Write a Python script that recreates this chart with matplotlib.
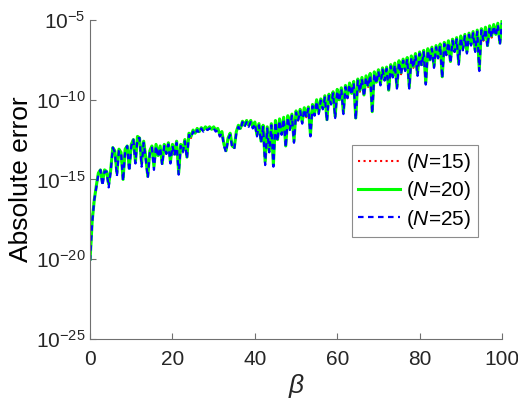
import matplotlib
matplotlib.use('Agg')

import matplotlib.pyplot as plt
import numpy as np

plt.rcParams['font.family'] = ['Liberation Sans', 'DejaVu Sans']
plt.rcParams['mathtext.fontset'] = 'custom'
plt.rcParams['mathtext.rm'] = 'Liberation Sans'
plt.rcParams['mathtext.it'] = 'Liberation Sans:italic'

# beta grid (step 0.5) and log10 of the absolute error
beta = np.arange(0, 100.5, 0.5)

err_n20 = [
    -20.0, -17.6, -16.3, -15.4, -14.6, -14.4, -15.2, -14.4, -14.5, -15.3,
    -14.4, -13.0, -13.2, -14.6, -13.1, -13.3, -15.0, -13.1, -12.9, -14.3,
    -12.8, -12.5, -13.9, -12.3, -12.4, -14.0, -12.6, -13.6, -14.8, -13.2,
    -12.9, -14.2, -12.8, -13.5, -12.9, -14.0, -12.8, -13.3, -12.7, -13.9,
    -12.8, -13.4, -12.6, -14.6, -12.8, -13.2, -12.5, -13.6, -12.1, -12.3,
    -11.9, -12.1, -11.8, -12.0, -11.75, -11.9, -11.7, -11.85, -11.7, -11.85,
    -11.7, -11.9, -11.8, -12.2, -12.0, -12.8, -13.2, -12.4, -12.1, -12.9,
    -13.0, -12.0, -11.6, -11.8, -11.35, -11.6, -11.3, -11.6, -11.3, -11.7,
    -11.4, -12.2, -11.5, -12.6, -11.6, -13.9, -11.7, -13.2, -11.5, -14.1,
    -11.3, -12.5, -11.2, -12.1, -11.1, -12.9, -11.0, -11.8, -10.9, -12.6,
    -10.7, -11.2, -10.6, -11.4, -10.5, -11.0, -10.45, -12.2, -10.3, -10.9,
    -10.0, -10.8, -9.95, -10.5, -9.75, -11.25, -9.65, -10.2, -9.5, -11.05,
    -9.35, -10.0, -9.25, -10.8, -9.1, -9.8, -8.95, -9.6, -8.85, -11.15,
    -8.7, -9.4, -8.6, -9.7, -8.5, -9.1, -8.35, -10.75, -8.25, -8.9,
    -8.12, -9.0, -8.0, -8.7, -7.95, -9.4, -7.8, -8.5, -7.7, -9.2,
    -7.55, -8.3, -7.45, -8.1, -7.35, -9.2, -7.25, -7.9, -7.1, -8.4,
    -7.0, -7.8, -6.9, -8.94, -6.8, -7.5, -6.7, -7.9, -6.6, -7.3,
    -6.5, -8.56, -6.4, -7.1, -6.3, -7.6, -6.2, -6.9, -6.1, -7.7,
    -6.0, -6.8, -5.9, -7.0, -5.82, -6.5, -5.72, -6.9, -5.63, -8.1,
    -5.54, -6.2, -5.45, -6.6, -5.36, -6.0, -5.28, -5.9, -5.2, -6.44,
    -5.1,
]

err_n15 = [
    -20.0, -17.5, -16.2, -15.4, -14.6, -14.5, -15.1, -14.4, -14.6, -15.2,
    -14.4, -13.1, -13.2, -14.5, -13.1, -13.4, -14.9, -13.1, -13.0, -14.2,
    -12.8, -12.6, -13.8, -12.3, -12.5, -13.9, -12.6, -13.5, -14.7, -13.2,
    -12.9, -14.1, -12.8, -13.4, -12.9, -13.9, -12.8, -13.4, -12.7, -13.8,
    -12.8, -13.5, -12.6, -14.5, -12.8, -13.3, -12.5, -13.5, -12.1, -12.4,
    -11.9, -12.1, -11.8, -12.0, -11.8, -11.9, -11.7, -11.9, -11.7, -11.9,
    -11.7, -11.9, -11.8, -12.3, -12.0, -12.7, -13.1, -12.4, -12.1, -12.8,
    -12.9, -12.0, -11.6, -11.8, -11.4, -11.6, -11.3, -11.6, -11.3, -11.7,
    -11.4, -12.1, -11.5, -12.5, -11.6, -13.8, -11.7, -13.1, -11.5, -14.0,
    -11.3, -12.4, -11.2, -12.2, -11.1, -12.8, -11.0, -11.9, -10.9, -12.5,
    -10.7, -11.3, -10.6, -11.3, -10.5, -11.1, -10.45, -12.1, -10.3, -10.9,
    -10.0, -10.7, -9.95, -10.6, -9.75, -11.2, -9.65, -10.3, -9.5, -11.0,
    -9.35, -10.1, -9.25, -10.7, -9.1, -9.9, -8.95, -9.5, -8.85, -11.1,
    -8.7, -9.5, -8.6, -9.6, -8.5, -9.2, -8.35, -10.7, -8.25, -9.0,
    -8.12, -8.9, -8.0, -8.8, -7.95, -9.3, -7.8, -8.6, -7.7, -9.1,
    -7.55, -8.4, -7.45, -8.0, -7.35, -9.1, -7.25, -8.0, -7.1, -8.3,
    -7.0, -7.9, -6.9, -8.9, -6.8, -7.6, -6.7, -7.8, -6.6, -7.4,
    -6.5, -8.5, -6.4, -7.2, -6.3, -7.5, -6.2, -7.0, -6.1, -7.6,
    -6.0, -6.9, -5.9, -6.9, -5.82, -6.6, -5.72, -6.8, -5.63, -8.0,
    -5.54, -6.3, -5.45, -6.5, -5.36, -6.1, -5.28, -5.8, -5.2, -6.4,
    -5.1,
]

err_n25 = [
    -20.1, -17.7, -16.3, -15.5, -14.7, -14.4, -15.4, -14.5, -14.5, -15.5,
    -14.5, -13.0, -13.3, -14.8, -13.2, -13.3, -15.1, -13.2, -12.9, -14.5,
    -12.9, -12.5, -14.0, -12.4, -12.4, -14.2, -12.7, -13.7, -14.9, -13.3,
    -13.0, -14.4, -12.9, -13.6, -13.0, -14.1, -12.9, -13.4, -12.8, -14.0,
    -12.9, -13.5, -12.7, -14.7, -12.9, -13.3, -12.6, -13.7, -12.2, -12.4,
    -12.0, -12.2, -11.9, -12.1, -11.8, -12.0, -11.8, -11.9, -11.8, -11.9,
    -11.8, -12.0, -11.9, -12.3, -12.1, -12.9, -13.3, -12.5, -12.2, -13.0,
    -13.1, -12.1, -11.7, -11.9, -11.4, -11.7, -11.4, -11.7, -11.4, -11.8,
    -11.5, -12.3, -11.6, -12.7, -11.7, -14.1, -11.8, -13.3, -11.6, -14.2,
    -11.4, -12.6, -11.3, -12.2, -11.2, -13.0, -11.1, -11.9, -11.0, -12.7,
    -10.8, -11.3, -10.7, -11.5, -10.6, -11.1, -10.55, -12.3, -10.4, -11.0,
    -10.1, -10.9, -10.05, -10.6, -9.85, -11.35, -9.75, -10.3, -9.6, -11.15,
    -9.45, -10.1, -9.35, -10.9, -9.2, -9.9, -9.05, -9.7, -8.95, -11.25,
    -8.8, -9.5, -8.7, -9.8, -8.6, -9.2, -8.45, -10.85, -8.35, -9.0,
    -8.22, -9.1, -8.1, -8.8, -8.05, -9.5, -7.9, -8.6, -7.8, -9.3,
    -7.65, -8.4, -7.55, -8.2, -7.45, -9.3, -7.35, -8.0, -7.2, -8.5,
    -7.1, -7.9, -7.0, -9.05, -6.9, -7.6, -6.8, -8.0, -6.7, -7.4,
    -6.6, -8.65, -6.5, -7.2, -6.4, -7.7, -6.3, -7.0, -6.2, -7.8,
    -6.1, -6.9, -6.0, -7.1, -5.92, -6.6, -5.82, -7.0, -5.73, -8.2,
    -5.64, -6.3, -5.55, -6.7, -5.46, -6.1, -5.38, -6.0, -5.3, -6.55,
    -5.2,
]

labels = ['($\\it{N}$=15)', '($\\it{N}$=20)', '($\\it{N}$=25)']

fig = plt.figure(figsize=(5.18, 4.01), dpi=100)
ax = fig.add_axes([0.174, 0.155, 0.795, 0.795])

ax.plot(beta, 10.0 ** np.array(err_n15), color='#ff0000', linestyle=':', linewidth=1.5, label=labels[0])
ax.plot(beta, 10.0 ** np.array(err_n20), color='#00ff00', linestyle='-', linewidth=2.2, label=labels[1])
ax.plot(beta, 10.0 ** np.array(err_n25), color='#0000ff', linestyle='--', linewidth=1.6,
        dashes=(2.5, 2.0), label=labels[2])

ax.set_yscale('log')
ax.set_xlim(0, 100)
ax.set_ylim(1e-25, 1e-5)
ax.set_xticks([0, 20, 40, 60, 80, 100])
ax.set_yticks([1e-25, 1e-20, 1e-15, 1e-10, 1e-5])
ax.minorticks_off()

for side in ['top', 'right']:
    ax.spines[side].set_visible(False)
for side in ['left', 'bottom']:
    ax.spines[side].set_color('#707070')
    ax.spines[side].set_linewidth(0.8)

ax.tick_params(direction='in', length=4, colors='#707070', labelcolor='#262626', labelsize=15)
ax.tick_params(axis='x', pad=8)
ax.set_xlabel('$\\it{\\beta}$', fontsize=19, color='#262626', labelpad=2)
ax.set_ylabel('Absolute error', fontsize=19, color='#000000', labelpad=2)

leg = ax.legend(loc='upper left', bbox_to_anchor=(0.636, 0.608), fontsize=15,
                frameon=True, fancybox=False, borderpad=0.3, handlelength=2.0,
                handletextpad=0.3, labelspacing=0.25, borderaxespad=0)
leg.get_frame().set_edgecolor('#707070')
leg.get_frame().set_linewidth(0.8)

fig.savefig('out.png', dpi=100)
plt.close(fig)
